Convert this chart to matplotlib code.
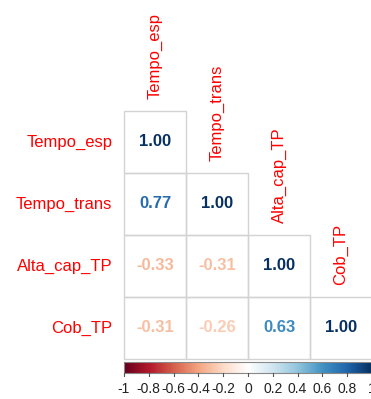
import numpy as np
import matplotlib
matplotlib.use('Agg')
import matplotlib.pyplot as plt
from matplotlib.colors import LinearSegmentedColormap
from matplotlib.patches import Rectangle

plt.rcParams['font.family'] = ['Liberation Sans', 'DejaVu Sans']

# variables and lower-triangle correlations
nomes = ['Tempo_esp', 'Tempo_trans', 'Alta_cap_TP', 'Cob_TP']
corr = np.array([
    [1.00, 0.77, -0.33, -0.31],
    [0.77, 1.00, -0.31, -0.26],
    [-0.33, -0.31, 1.00, 0.63],
    [-0.31, -0.26, 0.63, 1.00],
])
cb_ticks = [-1, -0.8, -0.6, -0.4, -0.2, 0, 0.2, 0.4, 0.6, 0.8, 1]
cb_labels = ['-1', '-0.8', '-0.6', '-0.4', '-0.2', '0', '0.2', '0.4', '0.6', '0.8', '1']

# corrplot default palette
cores = ["#67001F", "#B2182B", "#D6604D", "#F4A582", "#FDDBC7", "#FFFFFF",
         "#D1E5F0", "#92C5DE", "#4393C3", "#2166AC", "#053061"]
cmap = LinearSegmentedColormap.from_list('corrplot', cores, N=200)

W, H = 371, 399
fig = plt.figure(figsize=(W / 100, H / 100), dpi=100)
ax = fig.add_axes([0, 0, 1, 1])
cel = 62.0
x0, y0 = 124.0, 111.0
ax.set_xlim(-x0 / cel, (W - x0) / cel)
ax.set_ylim((H - y0) / cel, -y0 / cel)
ax.axis('off')

n = len(nomes)
for i in range(n):
    for j in range(i + 1):
        ax.add_patch(Rectangle((j, i), 1, 1, fill=False, edgecolor='#d3d3d3', lw=1.0))
        v = corr[i, j]
        ax.text(j + 0.5, i + 0.5, '%.2f' % v, ha='center', va='center',
                fontsize=12, fontweight='bold', color=cmap((v + 1) / 2))
    ax.text(-0.19, i + 0.5, nomes[i], ha='right', va='center', fontsize=12, color='#FF0000')
    ax.text(i + 0.5, i - 0.2, nomes[i], ha='center', va='bottom', rotation=90,
            fontsize=12, color='#FF0000')

# colour bar
cb_top = (362 - y0) / cel
cb_bot = (373 - y0) / cel
grad = np.linspace(-1, 1, 200).reshape(1, -1)
ax.imshow(grad, cmap=cmap, vmin=-1, vmax=1, aspect='auto',
          extent=(0, n, cb_bot, cb_top), zorder=1)
ax.add_patch(Rectangle((0, cb_top), n, cb_bot - cb_top, fill=False,
                       edgecolor='#888888', lw=0.8, zorder=2))
for t, lab in zip(cb_ticks, cb_labels):
    xt = (t + 1) / 2 * n
    ax.plot([xt, xt], [cb_bot, cb_bot + 3 / cel], color='#555555', lw=0.8)
    ax.text(xt, (389 - y0) / cel, lab, ha='center', va='center', fontsize=10, color='#222222')

fig.savefig('out.png', dpi=100)
